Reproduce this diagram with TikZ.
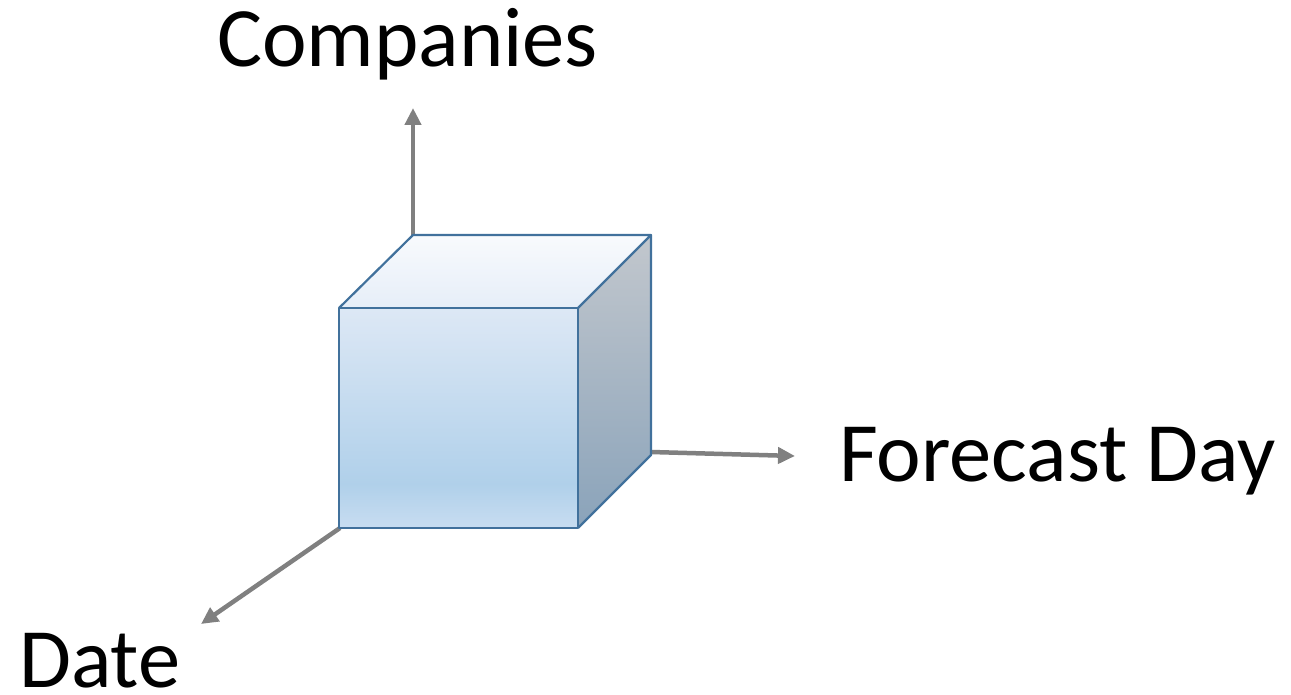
\documentclass[tikz,border=0pt]{standalone}
\usepackage{fontspec}
\setmainfont{Carlito}
\usetikzlibrary{arrows.meta}
\definecolor{edge}{HTML}{41719C}
\definecolor{axisgray}{HTML}{808080}
\definecolor{ftop}{HTML}{DDE8F5}
\definecolor{fmid}{HTML}{B0D0EA}
\definecolor{fbot}{HTML}{C8DDF1}
\definecolor{ttop}{HTML}{F8FAFD}
\definecolor{tbot}{HTML}{E6EEF8}
\definecolor{rtop}{HTML}{C2C7CD}
\definecolor{rbot}{HTML}{8AA3BA}
\pgfdeclareverticalshading{frontsh}{100bp}{color(0bp)=(fbot); color(25bp)=(fbot); color(35bp)=(fmid); color(75bp)=(ftop); color(100bp)=(ftop)}
\tikzset{
  axisarrow/.style={draw=axisgray, line width=4.5pt, -{Triangle[length=17pt,width=16pt]}},
  cubeedge/.style={draw=edge, line width=2.2pt, line join=round},
  axislabel/.style={font=\fontsize{84.5}{90}\selectfont, inner sep=0pt, anchor=base west, text=black, text depth=0pt}
}
\begin{document}
\begin{tikzpicture}[x=1pt,y=-1pt]
\useasboundingbox (0,0) rectangle (1291,695);
% cube corners
\coordinate (fbl) at (339,528);
\coordinate (fbr) at (578,528);
\coordinate (ftr) at (578,308);
\coordinate (ftl) at (339,308);
\coordinate (btl) at (413,235);
\coordinate (btr) at (651,235);
\coordinate (bbr) at (651,455);
% axis ends
\coordinate (cstart) at (413,236);
\coordinate (cend) at (413,108);
\coordinate (fstart) at (651,452);
\coordinate (fend) at (795,456);
\coordinate (dstart) at (340,528);
\coordinate (dend) at (201,624);
% axes
\draw[axisarrow] (cstart) -- (cend);
\draw[axisarrow] (fstart) -- (fend);
\draw[axisarrow] (dstart) -- (dend);
% faces
\shade[shading=frontsh] (fbl) -- (fbr) -- (ftr) -- (ftl) -- cycle;
\shade[top color=ttop, bottom color=tbot] (ftl) -- (ftr) -- (btr) -- (btl) -- cycle;
\shade[top color=rtop, bottom color=rbot] (fbr) -- (bbr) -- (btr) -- (ftr) -- cycle;
\draw[cubeedge] (fbl) -- (fbr) -- (ftr) -- (ftl) -- cycle;
\draw[cubeedge] (ftl) -- (btl) -- (btr) -- (ftr);
\draw[cubeedge] (btr) -- (bbr) -- (fbr);
% labels
\node[axislabel] (companies) at (217,67) {Companies};
\node[axislabel] (forecast) at (839,481) {Forecast Day};
\node[axislabel] (date) at (19,687) {Date};
\end{tikzpicture}
\end{document}
